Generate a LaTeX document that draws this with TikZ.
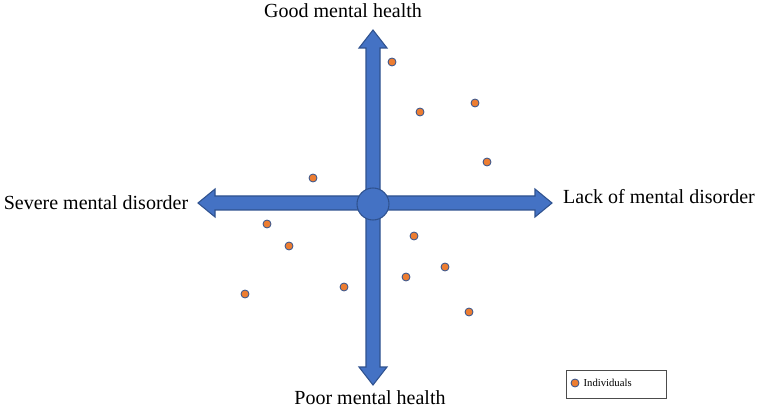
\documentclass[tikz,border=0pt]{standalone}
\usepackage{fontspec}
\setmainfont{Liberation Serif}
\usetikzlibrary{positioning}
\definecolor{axisfill}{HTML}{4472C4}
\definecolor{axisline}{HTML}{2F528F}
\definecolor{dotfill}{HTML}{ED7D31}
\tikzset{
    axis/.style = {fill=axisfill, draw=axisline, line width=0.8pt, line join=miter},
    person/.style = {circle, fill=dotfill, draw=axisline, line width=0.6pt, inner sep=0pt, minimum size=6pt},
    label/.style = {font=\fontsize{15}{17}\selectfont, inner sep=0pt}
}
\begin{document}
\begin{tikzpicture}[x=0.75pt, y=-0.75pt]
    \useasboundingbox (0,0) rectangle (762,409);

    % axes
    \draw[axis] (366,203) -- (366,48) -- (359,48) -- (373,30) -- (387,48) -- (380,48) -- (380,203)
        -- (380,367) -- (387,367) -- (373,385) -- (359,367) -- (366,367) -- cycle;
    \draw[axis] (373,196) -- (535,196) -- (535,189) -- (552,203) -- (535,217) -- (535,210)
        -- (215,210) -- (215,217) -- (198,203) -- (215,189) -- (215,196) -- cycle;
    \node[circle, axis, minimum size=24pt, inner sep=0pt] (centre) at (373,204) {};

    % labels
    \node[label] (good) at (343,11) {Good mental health};
    \node[label] (poor) at (370,398) {Poor mental health};
    \node[label] (lack) at (659,197) {Lack of mental disorder};
    \node[label] (severe) at (96,203) {Severe mental disorder};

    % individuals
    \foreach \px/\py [count=\i] in {392/62, 420/112, 475/103, 487/162, 313/178, 267/224, 289/246,
        414/236, 445/267, 406/277, 344/287, 245/294, 469/312}
        \node[person] (p\i) at (\px,\py) {};

    % legend
    \node[draw=black!70, line width=0.5pt, minimum width=75pt, minimum height=21pt] (legend) at (616,384) {};
    \node[person] (key) at (575,383) {};
    \node[right=3pt of key, font=\fontsize{8}{9}\selectfont, inner sep=0pt] (keytext) {Individuals};
\end{tikzpicture}
\end{document}
